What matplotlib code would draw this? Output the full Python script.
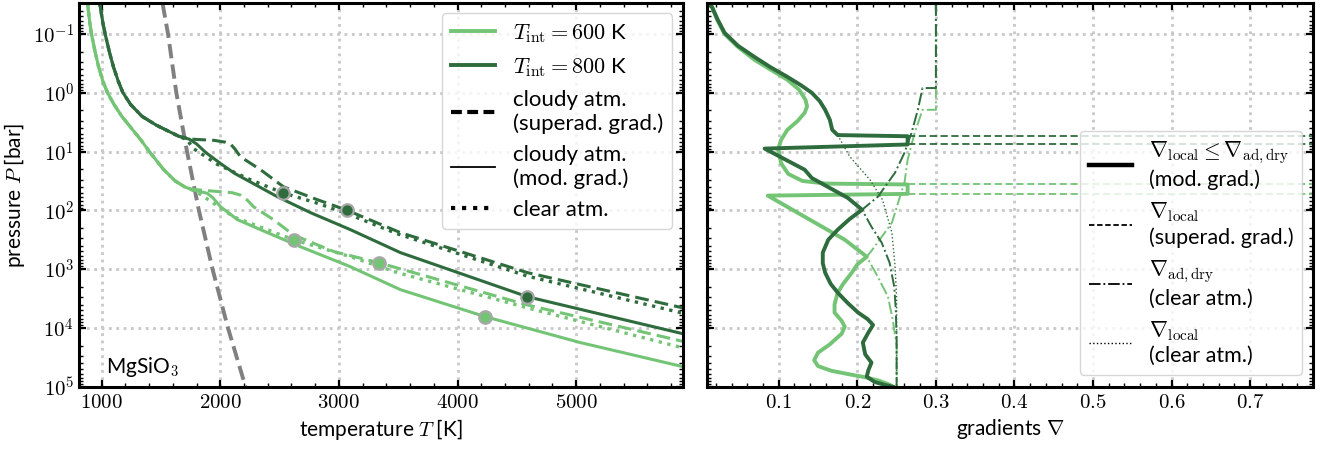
import numpy as np
import matplotlib
matplotlib.use("Agg")
import matplotlib.pyplot as plt
from matplotlib.lines import Line2D
from matplotlib.ticker import FuncFormatter, MultipleLocator, FixedLocator, LogLocator, NullFormatter

plt.rcParams['font.family'] = ['Lato', 'DejaVu Sans']
plt.rcParams['mathtext.fontset'] = 'cm'
plt.rcParams['font.size'] = 14

c600 = '#74c476'
c800 = '#2e6b3d'

# MgSiO3 condensation curve
cond_T = [1514, 1560, 1630, 1720, 1820, 1935, 2065, 2213]
cond_logp = [-1.52, -1.0, 0.0, 1.0, 2.0, 3.0, 4.0, 5.0]

# P-T profiles, T_int = 800 K (log10 of pressure in bar)
t800_mod = [985, 1010, 1030, 1065, 1100, 1140, 1180, 1245, 1340, 1460, 1650, 1740, 1800, 1880, 2000, 2120,
            2483, 2761, 3098, 3519, 4589, 5900]
p800_mod = [-1.52, -1.2, -1.0, -0.7, -0.44, -0.2, 0.0, 0.2, 0.4, 0.55, 0.74, 0.79, 0.87, 1.02, 1.2, 1.37,
            1.77, 2.04, 2.33, 2.72, 3.47, 4.1]
t800_sup = [985, 1010, 1030, 1065, 1100, 1140, 1180, 1245, 1340, 1460, 1650, 1760, 1950, 2040, 2090, 2125, 2171,
            2340, 2533, 2820, 3070, 3519, 4589, 5900]
p800_sup = [-1.52, -1.2, -1.0, -0.7, -0.44, -0.2, 0.0, 0.2, 0.4, 0.55, 0.74, 0.79, 0.81, 0.84, 0.88, 0.96, 1.09,
            1.31, 1.6, 1.82, 2.0, 2.38, 3.06, 3.66]
t800_clr = [985, 1010, 1030, 1065, 1100, 1140, 1180, 1245, 1340, 1460, 1650, 1720, 1775, 1977, 2255, 2525,
            2820, 3073, 3494, 4589, 5900]
p800_clr = [-1.52, -1.2, -1.0, -0.7, -0.44, -0.2, 0.0, 0.2, 0.4, 0.55, 0.74, 0.80, 0.95, 1.22, 1.48, 1.70,
            1.88, 2.06, 2.40, 3.12, 3.75]

# P-T profiles, T_int = 600 K
t600_mod = [882, 900, 915, 945, 975, 1010, 1050, 1105, 1170, 1250, 1330, 1410, 1520, 1620, 1700, 1760, 1830, 1890,
            1935, 2003, 2146, 2398, 2677, 3098, 3519, 4235, 5035, 5900]
p600_mod = [-1.52, -1.2, -1.0, -0.7, -0.44, -0.2, 0.0, 0.2, 0.4, 0.6, 0.8, 1.02, 1.3, 1.5, 1.6, 1.65, 1.68, 1.71,
            1.78, 1.94, 2.16, 2.38, 2.62, 2.96, 3.35, 3.81, 4.25, 4.66]
t600_sup = [882, 900, 915, 945, 975, 1010, 1050, 1105, 1170, 1250, 1330, 1410, 1520, 1620, 1700, 1760, 1860, 2100,
            2170, 2230, 2281, 2449, 2618, 2955, 3334, 4589, 5900]
p600_sup = [-1.52, -1.2, -1.0, -0.7, -0.44, -0.2, 0.0, 0.2, 0.4, 0.6, 0.8, 1.02, 1.3, 1.5, 1.6, 1.64, 1.66, 1.70,
            1.74, 1.83, 1.94, 2.16, 2.42, 2.70, 2.89, 3.61, 4.23]
t600_clr = [882, 900, 915, 945, 975, 1010, 1050, 1105, 1170, 1250, 1330, 1410, 1520, 1620, 1700, 1760, 1834, 2112,
            2398, 2618, 3098, 3494, 4589, 5900]
p600_clr = [-1.52, -1.2, -1.0, -0.7, -0.44, -0.2, 0.0, 0.2, 0.4, 0.6, 0.8, 1.02, 1.3, 1.5, 1.6, 1.65, 1.73, 2.11,
            2.33, 2.5, 2.79, 3.06, 3.66, 4.34]

# circles on the profiles
dot800_T = [2525, 3070, 4589]
dot800_logp = [1.70, 2.0, 3.47]
dot600_T = [2620, 3334, 4235]
dot600_logp = [2.5, 2.89, 3.81]

# gradients, T_int = 800 K
g800_mod = [0.009, 0.015, 0.022, 0.031, 0.048, 0.069, 0.090, 0.111, 0.128, 0.142, 0.152, 0.159, 0.165, 0.168, 0.175,
            0.264, 0.264, 0.082, 0.133, 0.142, 0.188, 0.206, 0.190, 0.175, 0.163, 0.156, 0.156, 0.159, 0.166, 0.175,
            0.188, 0.201, 0.213, 0.220, 0.214, 0.207, 0.210, 0.218, 0.214, 0.212, 0.222, 0.235, 0.245]
q800_mod = [-1.52, -1.46, -1.25, -1.02, -0.80, -0.61, -0.43, -0.27, -0.13, 0.0, 0.14, 0.29, 0.46, 0.63, 0.72,
            0.74, 0.88, 0.95, 1.31, 1.45, 1.79, 1.99, 2.15, 2.33, 2.5, 2.72, 2.9, 3.06, 3.25, 3.40,
            3.58, 3.74, 3.85, 3.95, 4.08, 4.25, 4.45, 4.59, 4.72, 4.83, 4.92, 4.97, 5.0]
g800_sup = [0.264, 2.0, 2.0, 0.264]
q800_sup = [0.74, 0.74, 0.88, 0.88]
g800_ad = [0.300, 0.300, 0.283, 0.277, 0.269, 0.260, 0.248, 0.226, 0.206, 0.218, 0.231, 0.241, 0.247, 0.249, 0.250, 0.250]
q800_ad = [-1.52, -0.08, -0.08, 0.29, 0.68, 1.02, 1.36, 1.77, 1.99, 2.28, 2.55, 2.89, 3.3, 3.7, 4.2, 5.0]
g800_clr = [0.175, 0.190, 0.216, 0.232, 0.244, 0.248, 0.250, 0.250]
q800_clr = [0.72, 1.08, 1.48, 1.82, 2.38, 2.95, 3.5, 5.0]

# gradients, T_int = 600 K
g600_mod = [0.009, 0.015, 0.022, 0.031, 0.048, 0.069, 0.090, 0.111, 0.126, 0.134, 0.136, 0.133, 0.124, 0.111, 0.103,
            0.099, 0.100, 0.103, 0.112, 0.130, 0.160, 0.264, 0.264, 0.086, 0.133, 0.184, 0.212, 0.200, 0.193, 0.182,
            0.175, 0.171, 0.171, 0.180, 0.184, 0.180, 0.165, 0.150, 0.145, 0.150, 0.167, 0.190, 0.210, 0.228, 0.240,
            0.245]
q600_mod = [-1.52, -1.46, -1.23, -1.0, -0.78, -0.56, -0.39, -0.22, -0.05, 0.12, 0.23, 0.34, 0.48, 0.63, 0.80,
            0.97, 1.0, 1.2, 1.38, 1.5, 1.545, 1.56, 1.72, 1.75, 2.11, 2.50, 2.79, 2.92, 3.06, 3.25,
            3.40, 3.6, 3.74, 3.88, 3.98, 4.1, 4.28, 4.42, 4.55, 4.65, 4.73, 4.79, 4.84, 4.9, 4.96,
            5.0]
g600_sup = [0.264, 2.0, 2.0, 0.264]
q600_sup = [1.56, 1.56, 1.72, 1.72]
g600_ad = [0.300, 0.300, 0.283, 0.273, 0.264, 0.260, 0.257, 0.244, 0.222, 0.212, 0.226, 0.239, 0.245, 0.250, 0.250]
q600_ad = [-1.52, 0.29, 0.29, 0.68, 1.14, 1.53, 1.65, 2.21, 2.62, 2.79, 3.13, 3.47, 3.86, 4.3, 5.0]

pressure_ticks = [1e-1, 1e0, 1e1, 1e2, 1e3, 1e4, 1e5]


def P(logp):
    return 10.0 ** np.asarray(logp)


def style_axes(ax):
    for s in ax.spines.values():
        s.set_linewidth(2.2)
    ax.tick_params(which='both', direction='in', top=True, right=True, labelsize=15)
    ax.tick_params(which='major', length=5, width=1.6)
    ax.tick_params(which='minor', length=3, width=1.0)
    ax.set_yscale('log')
    ax.set_ylim(1e5, 0.03)
    ax.yaxis.set_major_locator(FixedLocator(pressure_ticks))
    ax.yaxis.set_minor_locator(LogLocator(base=10, subs=np.arange(2, 10), numticks=20))
    ax.yaxis.set_minor_formatter(NullFormatter())
    ax.grid(True, which='major', color='#c8c8c8', linestyle=':', linewidth=2)
    ax.set_axisbelow(True)


fig = plt.figure(figsize=(13.26, 4.49), dpi=100)
ax1 = fig.add_axes([0.0596, 0.1388, 0.4555, 0.854])
ax2 = fig.add_axes([0.5334, 0.1388, 0.4568, 0.854])

# left panel: P-T structures
style_axes(ax1)
ax1.plot(cond_T, P(cond_logp), color='gray', ls='--', lw=2.8, dashes=(3.7, 1.6))
ax1.plot(t600_mod, P(p600_mod), color=c600, lw=2.2)
ax1.plot(t600_sup, P(p600_sup), color=c600, lw=2.2, ls='--', dashes=(4.5, 2))
ax1.plot(t600_clr, P(p600_clr), color=c600, lw=2.4, ls=':')
ax1.plot(t800_mod, P(p800_mod), color=c800, lw=2.2)
ax1.plot(t800_sup, P(p800_sup), color=c800, lw=2.2, ls='--', dashes=(4.5, 2))
ax1.plot(t800_clr, P(p800_clr), color=c800, lw=2.4, ls=':')
ax1.plot(dot600_T, P(dot600_logp), ls='none', marker='o', ms=9, mfc=c600, mec='#a8a8a8', mew=1.6, zorder=5)
ax1.plot(dot800_T, P(dot800_logp), ls='none', marker='o', ms=9, mfc=c800, mec='#a8a8a8', mew=1.6, zorder=5)

ax1.set_xlim(810, 5900)
ax1.xaxis.set_major_locator(MultipleLocator(1000))
ax1.xaxis.set_minor_locator(MultipleLocator(200))
ax1.xaxis.set_major_formatter(FuncFormatter(lambda v, pos: r'$%d$' % v))
ax1.yaxis.set_major_formatter(FuncFormatter(lambda v, pos: r'$10^{%d}$' % round(np.log10(v))))
ax1.set_xlabel(r'temperature $T$ [K]', fontsize=15, labelpad=4)
ax1.set_ylabel(r'pressure $P$ [bar]', fontsize=15, labelpad=4)
ax1.text(0.045, 0.02, r'MgSiO$_3$', transform=ax1.transAxes, fontsize=15, ha='left', va='bottom')

leg_handles = [
    Line2D([], [], color=c600, lw=2.8),
    Line2D([], [], color=c800, lw=2.8),
    Line2D([], [], color='black', lw=3.0, ls='--', dashes=(2.6, 1.3)),
    Line2D([], [], color='black', lw=1.3),
    Line2D([], [], color='black', lw=3.0, ls=':'),
]
leg_labels = [
    r'$T_\mathrm{int} = 600$ K',
    r'$T_\mathrm{int} = 800$ K',
    'cloudy atm.\n(superad. grad.)',
    'cloudy atm.\n(mod. grad.)',
    'clear atm.',
]
ax1.legend(leg_handles, leg_labels, loc='upper right', bbox_to_anchor=(0.982, 0.974), borderaxespad=0,
           fontsize=16, handlelength=2.0, framealpha=0.8)

# right panel: temperature gradients
style_axes(ax2)
ax2.plot(g600_ad, P(q600_ad), color=c600, lw=1.4, ls='-.')
ax2.plot(g600_sup, P(q600_sup), color=c600, lw=1.3, ls='--', dashes=(4, 2))
ax2.plot(g600_mod, P(q600_mod), color=c600, lw=2.8)
ax2.plot(g800_clr, P(q800_clr), color=c800, lw=1.0, ls=':')
ax2.plot(g800_ad, P(q800_ad), color=c800, lw=1.4, ls='-.')
ax2.plot(g800_sup, P(q800_sup), color=c800, lw=1.3, ls='--', dashes=(4, 2))
ax2.plot(g800_mod, P(q800_mod), color=c800, lw=2.8)

ax2.set_xlim(0.009, 0.78)
ax2.xaxis.set_major_locator(MultipleLocator(0.1))
ax2.xaxis.set_minor_locator(MultipleLocator(0.02))
ax2.xaxis.set_major_formatter(FuncFormatter(lambda v, pos: r'$%.1f$' % v))
ax2.yaxis.set_major_formatter(NullFormatter())
ax2.set_xlabel(r'gradients $\nabla$', fontsize=15, labelpad=4)

grad_handles = [
    Line2D([], [], color='black', lw=3.2),
    Line2D([], [], color='black', lw=1.3, ls='--', dashes=(3, 1.5)),
    Line2D([], [], color='black', lw=1.3, ls='-.'),
    Line2D([], [], color='black', lw=1.0, ls=':'),
]
grad_labels = [
    '$\\nabla_\\mathrm{local} \\leq \\nabla_\\mathrm{ad,dry}$\n(mod. grad.)',
    '$\\nabla_\\mathrm{local}$\n(superad. grad.)',
    '$\\nabla_\\mathrm{ad,dry}$\n(clear atm.)',
    '$\\nabla_\\mathrm{local}$\n(clear atm.)',
]
ax2.legend(grad_handles, grad_labels, loc='lower right', bbox_to_anchor=(0.982, 0.031), borderaxespad=0,
           fontsize=15.5, handlelength=2.0, framealpha=0.8)

fig.savefig('out.png', dpi=100)
